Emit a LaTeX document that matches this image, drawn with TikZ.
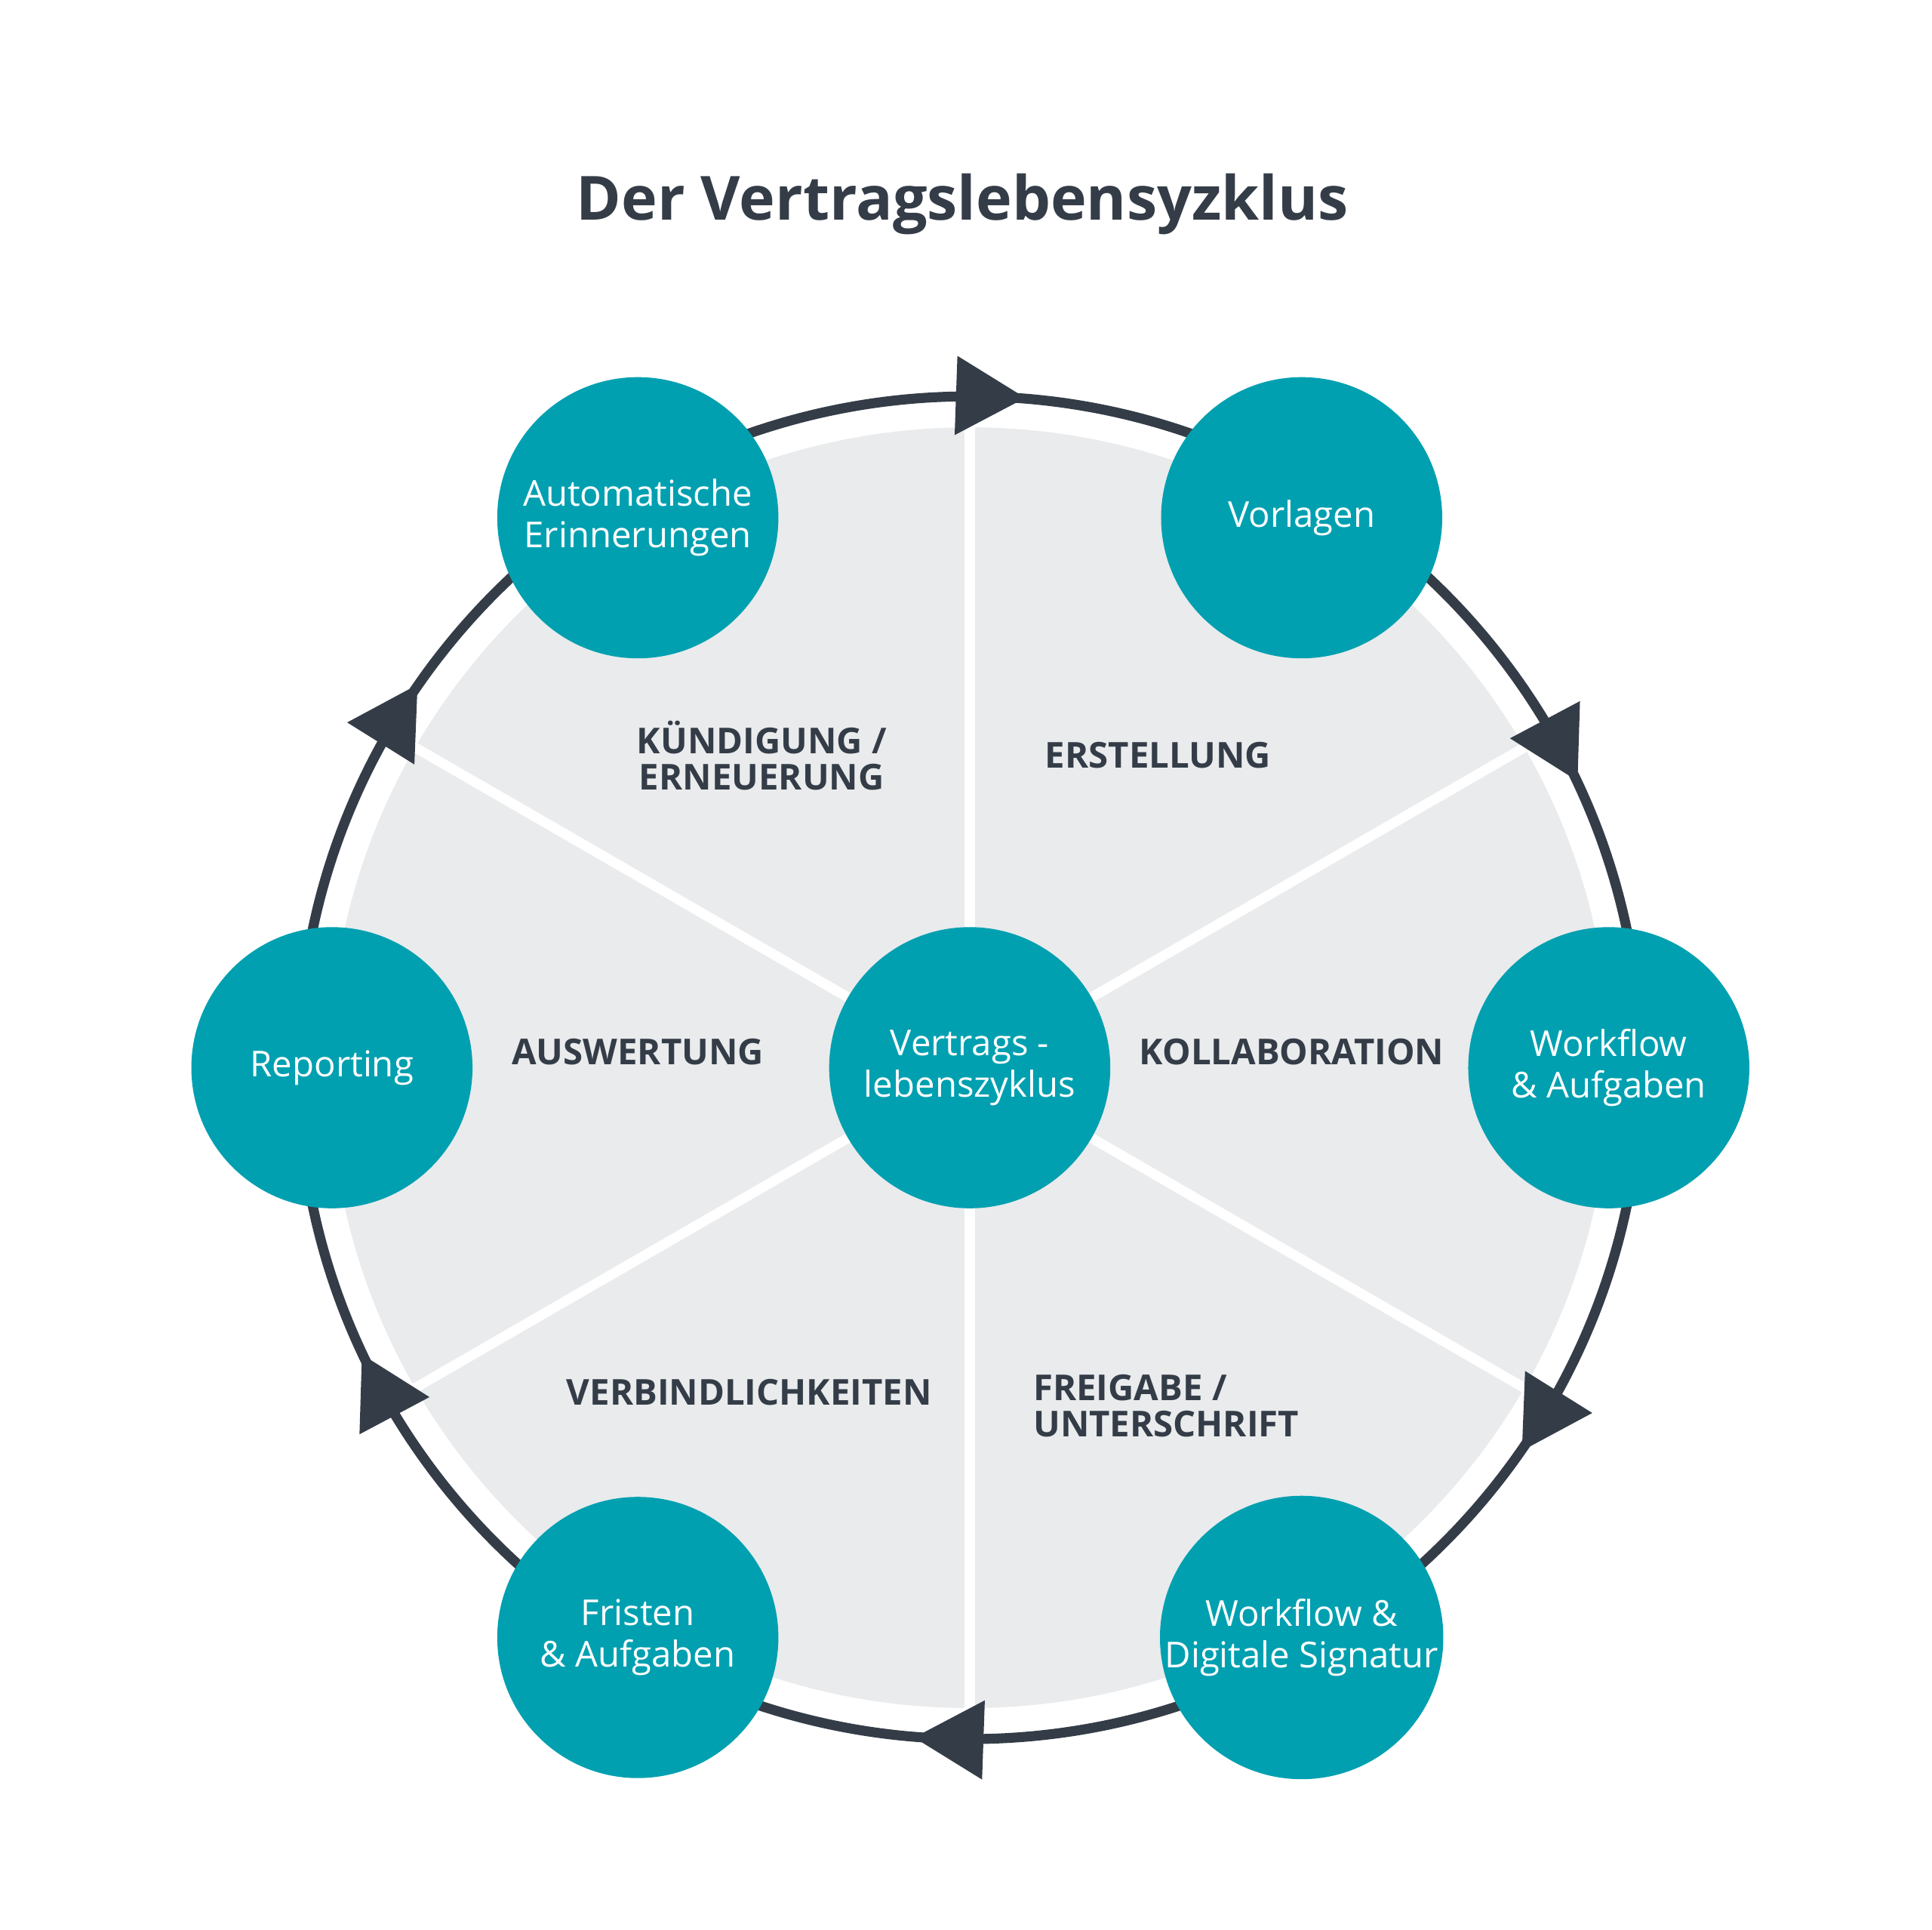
\documentclass[tikz,border=0pt]{standalone}
\usepackage{fontspec}
\setmainfont{Open Sans}
\definecolor{ringdark}{HTML}{343D47}
\definecolor{stationteal}{HTML}{00A0B0}
\definecolor{sector}{HTML}{E9EBED}
\begin{document}
\begin{tikzpicture}[x=1cm,y=1cm]
  \tikzstyle{station}=[circle,fill=stationteal,text=white,minimum size=2.27cm,inner sep=0pt,align=center,font=\fontsize{8.2}{9.6}\selectfont]
  \tikzstyle{phase}=[text=ringdark,font=\bfseries\fontsize{8.2}{8.2}\selectfont,align=center]
  \useasboundingbox (0,0) rectangle (15.6,15.58);
  \node[text=ringdark,font=\fontsize{14}{16}\selectfont\bfseries] (title) at (7.77,13.93) {Der Vertragslebensyzklus};
  \begin{scope}[shift={(7.83,6.96)}]
    \coordinate (c) at (0,0);
    \draw[ringdark,line width=0.08cm] (c) circle (5.42);
    \fill[sector] (c) circle (5.17);
    \foreach \a in {90,30,-30,-90,210,150}
      \draw[white,line width=0.08cm] (c) -- (\a:5.2);
    \foreach \a in {90,30,-30,-90,210,150}{
      \begin{scope}[rotate=\a-2]
        \fill[ringdark] (5.10,0.30) -- (5.74,0.30) -- (5.42,-0.26) -- cycle;
      \end{scope}
    }
  \end{scope}
  \node[station] (center) at (7.83,6.96) {Vertrags -\\lebenszyklus};
  \node[station] (vorlagen) at (10.51,11.40) {Vorlagen};
  \node[station] (workflow) at (12.99,6.96) {Workflow\\\& Aufgaben};
  \node[station] (signatur) at (10.51,2.36) {Workflow \&\\Digitale Signatur};
  \node[station] (fristen) at (5.15,2.36) {Fristen\\\& Aufgaben};
  \node[station] (reporting) at (2.68,6.96) {Reporting};
  \node[station] (erinnerung) at (5.15,11.40) {Automatische\\Erinnerungen};
  \node[phase] (kuendigung) at (6.15,9.48) {KÜNDIGUNG /\\ERNEUERUNG};
  \node[phase] (erstellung) at (9.35,9.48) {ERSTELLUNG};
  \node[phase] (auswertung) at (5.15,7.09) {AUSWERTUNG};
  \node[phase] (kollaboration) at (10.43,7.09) {KOLLABORATION};
  \node[phase] (verbindlich) at (6.05,4.34) {VERBINDLICHKEITEN};
  \node[phase,align=left,anchor=west] (freigabe) at (8.22,4.23) {FREIGABE /\\UNTERSCHRIFT};
\end{tikzpicture}
\end{document}
